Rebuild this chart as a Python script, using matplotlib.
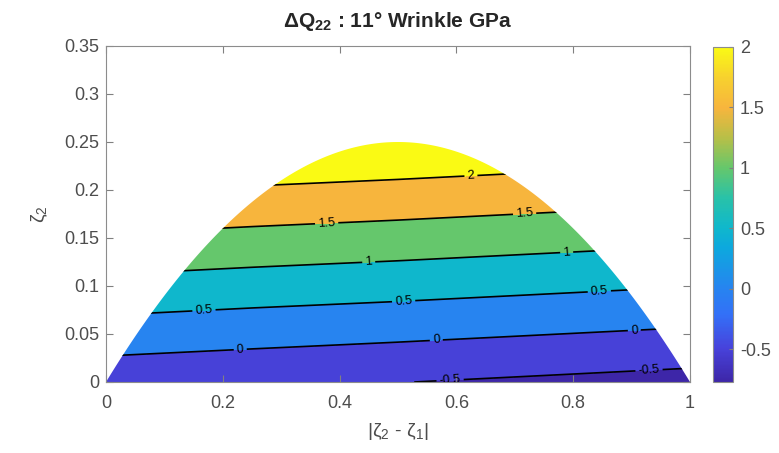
import numpy as np
import matplotlib
matplotlib.use("Agg")
import matplotlib.pyplot as plt
from matplotlib.colors import LinearSegmentedColormap, Normalize
from matplotlib.path import Path
from matplotlib.patches import PathPatch
from matplotlib.ticker import FormatStrFormatter
import matplotlib.cm as cm

plt.rcParams['font.family'] = ['Liberation Sans', 'DejaVu Sans']
plt.rcParams['mathtext.fontset'] = 'custom'
plt.rcParams['mathtext.rm'] = 'Liberation Sans'
plt.rcParams['mathtext.it'] = 'Liberation Sans:italic'
plt.rcParams['mathtext.bf'] = 'Liberation Sans:bold'
plt.rcParams['mathtext.default'] = 'regular'
plt.rcParams['axes.unicode_minus'] = False

# values
zeta_diff = [0.0, 0.25, 0.5, 0.75, 1.0]          # |zeta2 - zeta1|
zeta2 = [0.0, 0.05, 0.10, 0.15, 0.20, 0.25]
# rows follow zeta2, columns follow zeta_diff
dq22 = [
    [-0.32, -0.40, -0.49, -0.58, -0.67],
    [0.27, 0.18, 0.10, 0.01, -0.08],
    [0.86, 0.77, 0.69, 0.60, 0.51],
    [1.45, 1.36, 1.28, 1.19, 1.10],
    [2.04, 1.95, 1.87, 1.78, 1.69],
    [2.63, 2.54, 2.46, 2.37, 2.28],
]
levels = [-0.5, 0, 0.5, 1, 1.5, 2]
cbar_ticks = [-0.5, 0, 0.5, 1, 1.5, 2]
cmin, cmax = -0.77, 2.0

# parula-like colormap
parula = LinearSegmentedColormap.from_list('parula', [
    (0.00, (0.24, 0.15, 0.66)),
    (0.10, (0.28, 0.26, 0.86)),
    (0.20, (0.20, 0.44, 0.97)),
    (0.28, (0.15, 0.52, 0.94)),
    (0.40, (0.05, 0.66, 0.87)),
    (0.46, (0.06, 0.72, 0.80)),
    (0.55, (0.16, 0.76, 0.66)),
    (0.64, (0.40, 0.78, 0.42)),
    (0.73, (0.72, 0.75, 0.28)),
    (0.82, (0.97, 0.71, 0.24)),
    (0.91, (0.97, 0.82, 0.18)),
    (1.00, (0.98, 0.98, 0.08)),
])
norm = Normalize(cmin, cmax)

fig = plt.figure(figsize=(7.79, 4.53), dpi=100)
ax = fig.add_axes([106 / 779, 1 - 382 / 453, 584 / 779, 336 / 453])

X, Y = np.meshgrid(zeta_diff, zeta2)
Z = np.array(dq22)

# domain: below the parabola
bx = np.linspace(0, 1, 300)
verts = list(zip(bx, bx * (1 - bx))) + [(0, 0)]
clip = PathPatch(Path(verts, closed=True), transform=ax.transData,
                 facecolor='none', edgecolor='none')
ax.add_patch(clip)

# each band takes the colour of its lower level (matlab style)
fill_levels = [-5] + levels + [5]
band_cols = [parula(0.0)] + [parula(min(norm(l), 1.0)) for l in levels]
cf = ax.contourf(X, Y, Z, levels=fill_levels, colors=band_cols)
cf.set_clip_path(clip)

cs = ax.contour(X, Y, Z, levels=levels, colors='k', linewidths=1.2,
                linestyles='solid')
label_pos = [(0.625, 0.214), (0.378, 0.164), (0.717, 0.174),
             (0.45, 0.124), (0.789, 0.134), (0.168, 0.073), (0.51, 0.082),
             (0.845, 0.093), (0.23, 0.033), (0.566, 0.041), (0.905, 0.052),
             (0.589, 0.003), (0.93, 0.011)]
ax.clabel(cs, levels, inline=True, fontsize=9, fmt='%g', manual=label_pos,
          inline_spacing=3)
cs.set_clip_path(clip)

ax.set_xlim(0, 1)
ax.set_ylim(0, 0.35)
ax.set_xticks([0, 0.2, 0.4, 0.6, 0.8, 1])
ax.set_yticks(np.arange(0, 0.351, 0.05))
ax.xaxis.set_major_formatter(FormatStrFormatter('%g'))
ax.yaxis.set_major_formatter(FormatStrFormatter('%g'))
ax.tick_params(direction='in', top=True, right=True, length=5, width=0.8,
               colors='#808080', labelcolor='#4d4d4d', labelsize=13, pad=5)
ax.tick_params(axis='x', pad=9)
for s in ax.spines.values():
    s.set_color('#8c8c8c')
    s.set_linewidth(0.8)

ax.set_xlabel('|ζ$_2$ - ζ$_1$|', fontsize=14, color='#4d4d4d', labelpad=7)
ax.set_ylabel('ζ$_2$', fontsize=14, color='#4d4d4d', labelpad=10)
ax.set_title(r'ΔQ$_{\mathbf{22}}$ : 11° Wrinkle GPa', fontsize=15,
             fontweight='bold', color='#262626', pad=14)

cax = fig.add_axes([713 / 779, 1 - 382 / 453, 20 / 779, 335 / 453])
sm = cm.ScalarMappable(norm=norm, cmap=parula)
cb = fig.colorbar(sm, cax=cax, ticks=cbar_ticks)
cb.ax.yaxis.set_major_formatter(FormatStrFormatter('%g'))
cb.ax.tick_params(direction='in', length=3, colors='#808080',
                  labelcolor='#4d4d4d', labelsize=13, pad=5)
cb.outline.set_edgecolor('#8c8c8c')
cb.outline.set_linewidth(0.8)

fig.savefig('out.png', dpi=100)
